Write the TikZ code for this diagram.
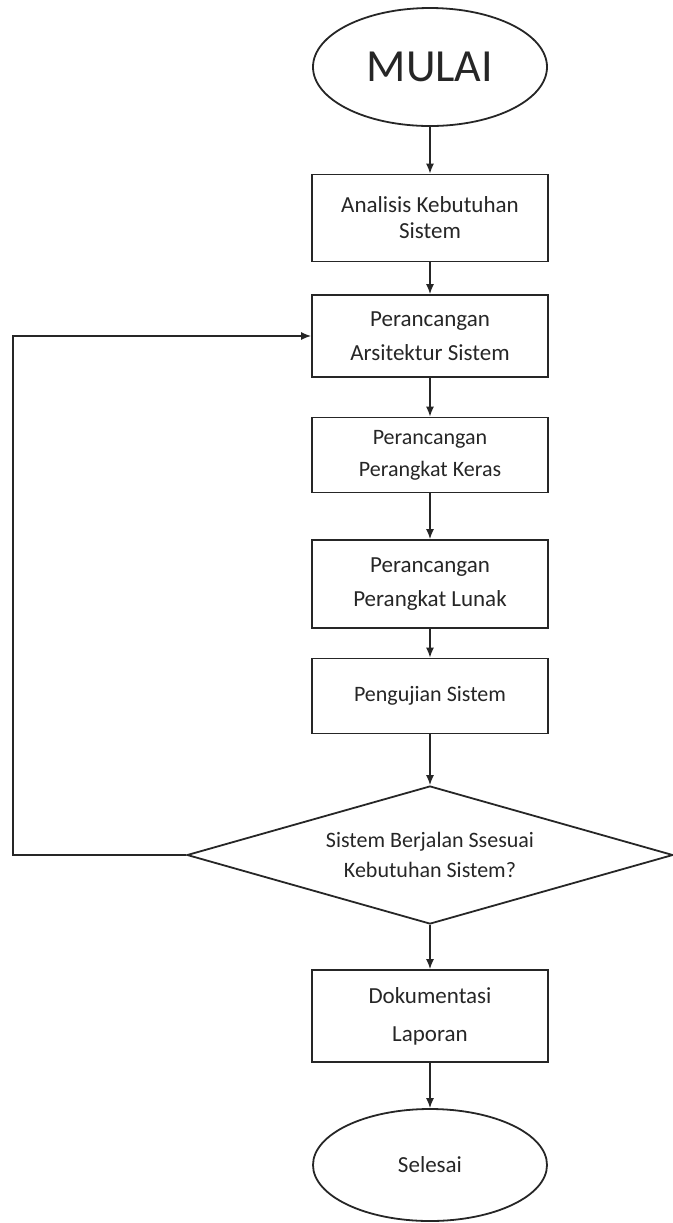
\documentclass[tikz,border=0pt]{standalone}
\usepackage{fontspec}
\setmainfont{Carlito}
\usetikzlibrary{shapes.geometric,arrows.meta}

\begin{document}
\begin{tikzpicture}[x=0.5pt,y=-0.5pt,
  garis/.style={draw=black!85,line width=0.9pt},
  kotak/.style={garis,rectangle,minimum width=118pt,inner sep=0pt,align=center,text=black!85,font=\fontsize{11.5}{17}\selectfont},
  oval/.style={garis,ellipse,minimum width=117pt,inner sep=0pt,text=black!85},
  panah/.style={draw=black!85,line width=0.7pt,-{Latex[length=5pt,width=4pt]}}]
\useasboundingbox (0,0) rectangle (673,1223);

\node[oval,minimum height=59pt,font=\fontsize{23}{23}\selectfont] (mulai) at (430,67) {MULAI};
\node[kotak,minimum height=43.5pt,font=\fontsize{11.5}{13}\selectfont] (analisis) at (430,218) {Analisis Kebutuhan\\Sistem};
\node[kotak,minimum height=41pt] (arsitektur) at (430,336) {Perancangan\\Arsitektur Sistem};
\node[kotak,minimum height=37.5pt,font=\fontsize{11}{16}\selectfont] (keras) at (430,455) {Perancangan\\Perangkat Keras};
\node[kotak,minimum height=44pt] (lunak) at (430,584) {Perancangan\\Perangkat Lunak};
\node[kotak,minimum height=37.5pt,font=\fontsize{11}{16}\selectfont] (pengujian) at (430,696) {Pengujian Sistem};
\node[garis,diamond,shape aspect=3.52,minimum width=243pt,minimum height=69pt,inner sep=0pt,align=center,text=black!85,font=\fontsize{11}{15}\selectfont] (keputusan) at (430,855) {Sistem Berjalan Ssesuai\\Kebutuhan Sistem?};
\node[kotak,minimum height=46pt,font=\fontsize{11.5}{19}\selectfont] (dokumentasi) at (430,1016) {Dokumentasi\\Laporan};
\node[oval,minimum height=56pt,font=\fontsize{11.5}{14}\selectfont] (selesai) at (430,1165) {Selesai};

\draw[panah] (mulai) -- (analisis);
\draw[panah] (analisis) -- (arsitektur);
\draw[panah] (arsitektur) -- (keras);
\draw[panah] (keras) -- (lunak);
\draw[panah] (lunak) -- (pengujian);
\draw[panah] (pengujian) -- (keputusan);
\draw[panah] (keputusan) -- (dokumentasi);
\draw[panah] (dokumentasi) -- (selesai);
\draw[panah] (keputusan.west) -- ++(-173,0) |- (arsitektur.west);
\end{tikzpicture}
\end{document}
